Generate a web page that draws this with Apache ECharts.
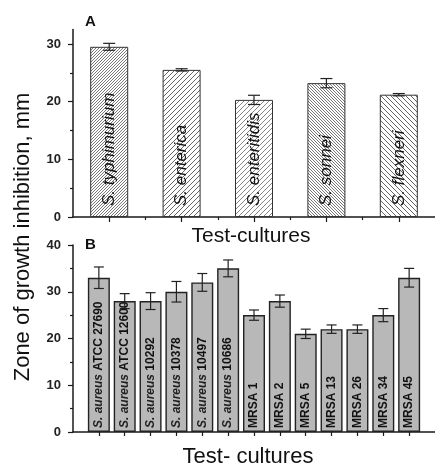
<!DOCTYPE html>
<html>
<head>
<meta charset="utf-8">
<script src="https://cdn.jsdelivr.net/npm/echarts@6/dist/echarts.min.js"></script>
<style>
  html, body { margin: 0; padding: 0; background: #fff; }
  #chart { width: 435px; height: 467px; }
</style>
</head>
<body>
<div id="chart"></div>
<script>
// Panel A: Salmonella / Shigella cultures
const catsA = ['S. typhimurium', 'S. enterica', 'S. enteritidis', 'S. sonnei', 'S. flexneri'];
const valsA = [29.5, 25.5, 20.3, 23.2, 21.2];
const errA = [0.6, 0.2, 0.8, 0.8, 0.2];
const ticksA = [0, 10, 20, 30];
const minorA = [5, 15, 25];

// Panel B: S. aureus and MRSA strains
const catsB = ['S. aureus ATCC 27690', 'S. aureus ATCC 12600', 'S. aureus 10292', 'S. aureus 10378',
  'S. aureus 10497', 'S. aureus 10686', 'MRSA 1', 'MRSA 2', 'MRSA 5', 'MRSA 13', 'MRSA 26', 'MRSA 34', 'MRSA 45'];
const valsB = [33, 28, 28, 30, 32, 35, 25, 28, 21, 22, 22, 25, 33];
const errB = [2.3, 1.6, 1.8, 2.2, 1.9, 1.8, 1.1, 1.3, 1.0, 0.9, 0.9, 1.4, 2.0];
const ticksB = [0, 10, 20, 30, 40];
const minorB = [5, 15, 25, 35];

// hatch styles for panel A bars: direction and spacing
const hatchA = [
  { dir: 1, step: 3, color: '#6a6a6a' },
  { dir: 1, step: 5, color: '#555' },
  { dir: 1, step: 5, color: '#777' },
  { dir: -1, step: 3, color: '#6a6a6a' },
  { dir: -1, step: 5, color: '#555' }
];

function makeHatch(h) {
  const s = h.step;
  const c = document.createElement('canvas');
  c.width = s; c.height = s;
  const ctx = c.getContext('2d');
  ctx.fillStyle = '#fff';
  ctx.fillRect(0, 0, s, s);
  ctx.strokeStyle = h.color;
  ctx.lineWidth = 0.9;
  ctx.beginPath();
  if (h.dir > 0) {
    ctx.moveTo(0, s); ctx.lineTo(s, 0);
    ctx.moveTo(-1, 1); ctx.lineTo(1, -1);
    ctx.moveTo(s - 1, s + 1); ctx.lineTo(s + 1, s - 1);
  } else {
    ctx.moveTo(0, 0); ctx.lineTo(s, s);
    ctx.moveTo(-1, s - 1); ctx.lineTo(1, s + 1);
    ctx.moveTo(s - 1, -1); ctx.lineTo(s + 1, 1);
  }
  ctx.stroke();
  return { image: c, repeat: 'repeat' };
}

const FONT = 'Arial, "Liberation Sans", sans-serif';
const axisColor = '#1a1a1a';

function errorRenderer(cap) {
  return function (params, api) {
    const x = api.value(0), v = api.value(1), e = api.value(2);
    const top = api.coord([x, v + e]);
    const bot = api.coord([x, v - e]);
    const style = { stroke: '#222', lineWidth: 1.2 };
    return {
      type: 'group',
      children: [
        { type: 'line', shape: { x1: top[0], y1: top[1], x2: bot[0], y2: bot[1] }, style },
        { type: 'line', shape: { x1: top[0] - cap / 2, y1: top[1], x2: top[0] + cap / 2, y2: top[1] }, style },
        { type: 'line', shape: { x1: bot[0] - cap / 2, y1: bot[1], x2: bot[0] + cap / 2, y2: bot[1] }, style }
      ]
    };
  };
}

function xAxisCfg(grid, max, ticks, len, showLine) {
  return {
    gridIndex: grid, type: 'value', min: 0, max: max, position: 'bottom',
    axisLine: { show: showLine, onZero: false, lineStyle: { color: axisColor, width: 1.5 } },
    axisTick: { show: true, customValues: ticks, length: len, lineStyle: { color: axisColor, width: 1.2 } },
    axisLabel: { show: false },
    splitLine: { show: false }
  };
}

function yAxisCfg(grid, max, ticks, labels, len, showLine) {
  return {
    gridIndex: grid, type: 'value', min: 0, max: max, position: 'left',
    axisLine: { show: showLine, onZero: false, lineStyle: { color: axisColor, width: 1.5 } },
    axisTick: { show: true, customValues: ticks, length: len, lineStyle: { color: axisColor, width: 1.2 } },
    axisLabel: labels ? {
      show: true, customValues: labels, margin: 12,
      color: '#222', fontFamily: FONT, fontWeight: 'bold', fontSize: 13
    } : { show: false },
    splitLine: { show: false }
  };
}

const chart = echarts.init(document.getElementById('chart'), null, { renderer: 'canvas' });

const option = {
  backgroundColor: '#fff',
  animation: false,
  grid: [
    { left: 73, right: -9, top: 29.5, height: 187.5 },
    { left: 73, right: -9, top: 245, height: 187 }
  ],
  xAxis: [
    xAxisCfg(0, 5, catsA.map((c, i) => i + 0.5), 5, true),
    xAxisCfg(0, 5, [1, 2, 3, 4], 3, false),
    xAxisCfg(1, 14, catsB.map((c, i) => i + 1), 4, true)
  ],
  yAxis: [
    yAxisCfg(0, 32.5, ticksA, ticksA, 5, true),
    yAxisCfg(0, 32.5, minorA, null, 3, false),
    yAxisCfg(1, 40, ticksB, ticksB, 5, true),
    yAxisCfg(1, 40, minorB, null, 3, false)
  ],
  graphic: [
    { type: 'text', left: 85, top: 14, style: { text: 'A', font: 'bold 15px ' + FONT, fill: '#111' } },
    { type: 'text', left: 85, top: 237, style: { text: 'B', font: 'bold 15px ' + FONT, fill: '#111' } },
    { type: 'text', x: 251, y: 236, style: { text: 'Test-cultures', font: '21px ' + FONT, fill: '#111', textAlign: 'center', textVerticalAlign: 'middle' } },
    { type: 'text', x: 248, y: 457, style: { text: 'Test- cultures', font: '22px ' + FONT, fill: '#111', textAlign: 'center', textVerticalAlign: 'middle' } },
    { type: 'text', x: 23, y: 237, rotation: Math.PI / 2, style: { text: 'Zone of growth inhibition, mm', font: '22px ' + FONT, fill: '#111', textAlign: 'center', textVerticalAlign: 'middle' } }
  ],
  series: [
    {
      type: 'bar', xAxisIndex: 0, yAxisIndex: 0, barWidth: 38,
      data: valsA.map((v, i) => ({ value: [i + 0.5, v], itemStyle: { color: makeHatch(hatchA[i]) } })),
      itemStyle: { borderColor: '#333', borderWidth: 1 },
      label: {
        show: true, position: 'insideBottom', rotate: 90, align: 'left', verticalAlign: 'middle',
        distance: 11, color: '#111', fontFamily: FONT, fontStyle: 'italic', fontWeight: 'normal', fontSize: 17,
        formatter: (p) => catsA[p.dataIndex]
      }
    },
    {
      type: 'custom', xAxisIndex: 0, yAxisIndex: 0, z: 5,
      renderItem: errorRenderer(12),
      data: valsA.map((v, i) => [i + 0.5, v, errA[i]])
    },
    {
      type: 'bar', xAxisIndex: 2, yAxisIndex: 2, barWidth: 22,
      data: valsB.map((v, i) => [i + 1, v]),
      itemStyle: { color: '#b8b8b8', borderColor: '#222', borderWidth: 1.4 },
      label: {
        show: true, position: 'insideBottom', rotate: 90, align: 'left', verticalAlign: 'middle',
        distance: 4, color: '#111', fontFamily: FONT, fontWeight: 'bold', fontSize: 12,
        formatter: (p) => {
          const name = catsB[p.dataIndex];
          if (name.indexOf('S. aureus') === 0) {
            return '{i|S. aureus}{n|' + name.slice('S. aureus'.length) + '}';
          }
          return '{n|' + name + '}';
        },
        rich: {
          i: { fontFamily: FONT, fontStyle: 'italic', fontWeight: 'bold', fontSize: 12, color: '#222' },
          n: { fontFamily: FONT, fontWeight: 'bold', fontSize: 12, color: '#111' }
        }
      }
    },
    {
      type: 'custom', xAxisIndex: 2, yAxisIndex: 2, z: 5,
      renderItem: errorRenderer(10),
      data: valsB.map((v, i) => [i + 1, v, errB[i]])
    }
  ]
};

chart.setOption(option);
</script>
</body>
</html>
